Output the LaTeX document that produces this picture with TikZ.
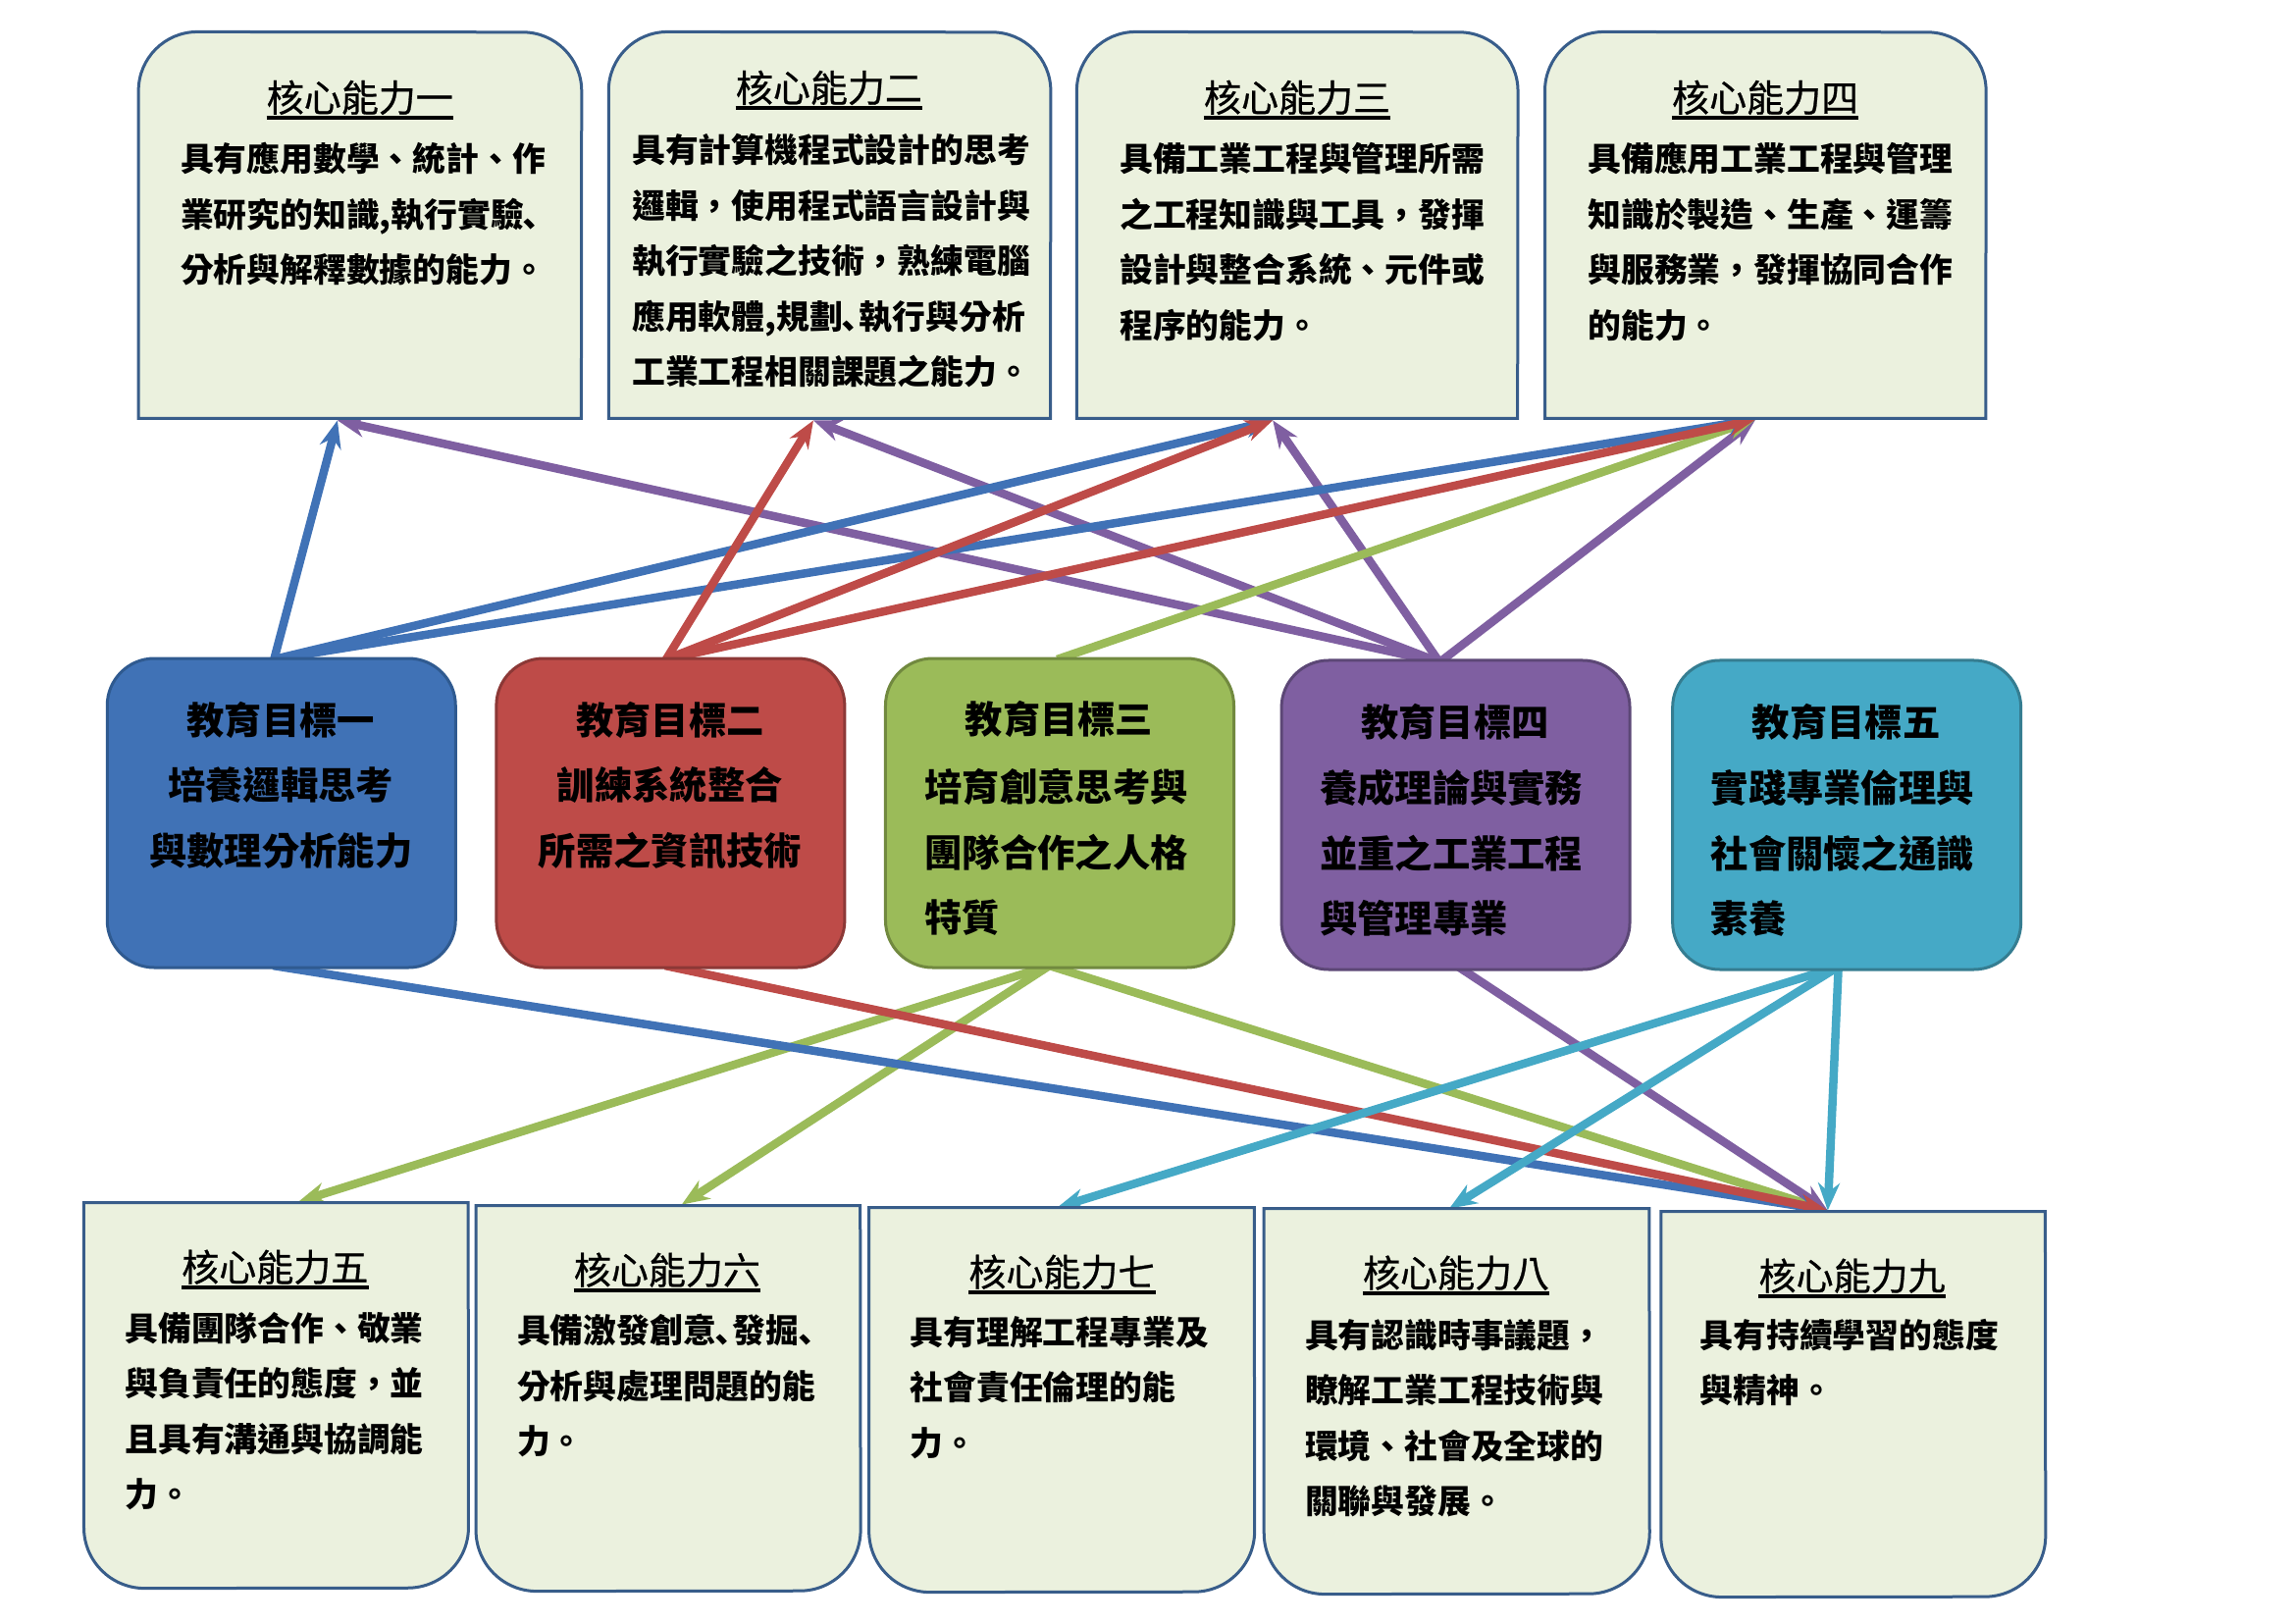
\documentclass[tikz,border=0pt]{standalone}
\usepackage{fontspec}
\setmainfont{Noto Sans CJK TC}
\newfontfamily\ttlfont{Noto Sans CJK TC}[FakeBold=0.7]
\usetikzlibrary{arrows.meta}
\definecolor{boxfill}{HTML}{EBF1DE}
\definecolor{boxline}{HTML}{385D8A}
\definecolor{cblue}{HTML}{4072B6}
\definecolor{cbluel}{HTML}{2F5A90}
\definecolor{cred}{HTML}{BE4B48}
\definecolor{credl}{HTML}{8C3836}
\definecolor{cgreen}{HTML}{9BBB59}
\definecolor{cgreenl}{HTML}{71893F}
\definecolor{cpurple}{HTML}{7F5FA1}
\definecolor{cpurplel}{HTML}{5C4776}
\definecolor{cteal}{HTML}{45A9C6}
\definecolor{cteall}{HTML}{357D91}
\newcommand\capbox[4]{\draw[capstyle] (#1,#4) -- (#1,#3+60) arc[start angle=180,end angle=90,radius=60pt] -- (#2-60,#3) arc[start angle=90,end angle=0,radius=60pt] -- (#2,#4) -- cycle;}
\newcommand\cupbox[4]{\draw[capstyle] (#1,#3) -- (#1,#4-62) arc[start angle=180,end angle=270,radius=62pt] -- (#2-62,#4) arc[start angle=270,end angle=360,radius=62pt] -- (#2,#3) -- cycle;}
\begin{document}
\begin{tikzpicture}[x=0.994pt,y=-0.994pt,
  capstyle/.style={fill=boxfill,draw=boxline,line width=3pt},
  goal/.style={rounded corners=48pt,line width=3pt,minimum width=355pt,minimum height=315pt,inner sep=0},
  ttl/.style={font=\ttlfont\fontsize{38}{46}\selectfont,inner sep=0},
  uline/.style={line width=4pt,black},
  body/.style={font=\bfseries\fontsize{33.8}{56.5}\selectfont,align=left,anchor=north west,inner sep=0},
  gtxt/.style={font=\bfseries\fontsize{38.3}{66.5}\selectfont,inner sep=0},
  link/.style={line width=8.5pt,-{Stealth[length=28pt,width=22pt]}},
]
\useasboundingbox (0pt,0pt) rectangle (2339pt,-1654pt);
\fill[white] (0pt,0pt) rectangle (2339pt,-1654pt);

% ---------- arrow end points ----------
\coordinate (tA1) at (346,431);
\coordinate (tA2) at (834,431);
\coordinate (tA3) at (1305,431);
\coordinate (tA4) at (1800,430);
\coordinate (m1t) at (281,676);
\coordinate (m2t) at (683,676);
\coordinate (m3t) at (1084,676);
\coordinate (m4t) at (1476,679);
\coordinate (m1b) at (280,990);
\coordinate (m2b) at (682,990);
\coordinate (m3b) at (1076,990);
\coordinate (m4b) at (1495,991);
\coordinate (m5b) at (1885,991);
\coordinate (b5) at (306,1232);
\coordinate (b6) at (699,1235);
\coordinate (b7) at (1084,1238);
\coordinate (b8) at (1486,1239);
\coordinate (b9) at (1874,1241);

% ---------- connectors ----------
\draw[link,cpurple] (m4t) -- (tA1);
\draw[link,cpurple] (m4t) -- (tA2);
\draw[link,cpurple] (m4t) -- (tA3);
\draw[link,cpurple] (m4t) -- (tA4);
\draw[link,cgreen] (m3t) -- (tA4);
\draw[link,cblue] (m1t) -- (tA1);
\draw[link,cblue] (m1t) -- (tA3);
\draw[link,cblue] (m1t) -- (tA4);
\draw[link,cred] (m2t) -- (tA2);
\draw[link,cred] (m2t) -- (tA3);
\draw[link,cred] (m2t) -- (tA4);

\draw[link,cgreen] (m3b) -- (b5);
\draw[link,cgreen] (m3b) -- (b6);
\draw[link,cgreen] (m3b) -- (b9);
\draw[link,cpurple] (m4b) -- (b9);
\draw[link,cblue] (m1b) -- (b9);
\draw[link,cred] (m2b) -- (b9);
\draw[link,cteal] (m5b) -- (b7);
\draw[link,cteal] (m5b) -- (b8);
\draw[link,cteal] (m5b) -- (b9);

% ---------- top boxes ----------
\capbox{142}{596}{33}{429}
\capbox{624}{1077}{33}{429}
\capbox{1104}{1556}{33}{429}
\capbox{1584}{2036}{33}{429}

\node[ttl] (k1) at (369,100) {核心能力一};
\draw[uline] ([yshift=-3pt]k1.south west) -- ([yshift=-3pt]k1.south east);
\node[body] (k1b) at (185,146) {具有應用數學、統計、作\\業研究的知識,執行實驗､\\分析與解釋數據的能力。};

\node[ttl] (k2) at (850,90) {核心能力二};
\draw[uline] ([yshift=-3pt]k2.south west) -- ([yshift=-3pt]k2.south east);
\node[body] (k2b) at (648,137) {具有計算機程式設計的思考\\邏輯，使用程式語言設計與\\執行實驗之技術，熟練電腦\\應用軟體,規劃､執行與分析\\工業工程相關課題之能力。};

\node[ttl] (k3) at (1330,100) {核心能力三};
\draw[uline] ([yshift=-3pt]k3.south west) -- ([yshift=-3pt]k3.south east);
\node[body] (k3b) at (1148,146) {具備工業工程與管理所需\\之工程知識與工具，發揮\\設計與整合系統、元件或\\程序的能力。};

\node[ttl] (k4) at (1810,100) {核心能力四};
\draw[uline] ([yshift=-3pt]k4.south west) -- ([yshift=-3pt]k4.south east);
\node[body] (k4b) at (1628,146) {具備應用工業工程與管理\\知識於製造、生產、運籌\\與服務業，發揮協同合作\\的能力。};

% ---------- goal boxes ----------
\node[goal,fill=cblue,draw=cbluel] (g1) at (288.5,833.5) {};
\node[goal,fill=cred,draw=credl] (g2) at (687.5,833.5) {};
\node[goal,fill=cgreen,draw=cgreenl] (g3) at (1086.5,833.5) {};
\node[goal,fill=cpurple,draw=cpurplel] (g4) at (1492.5,835.5) {};
\node[goal,fill=cteal,draw=cteall] (g5) at (1893.5,835.5) {};

\node[gtxt,align=center,anchor=north] (g1t) at (288,719) {教育目標一\\培養邏輯思考\\與數理分析能力};
\node[gtxt,align=center,anchor=north] (g2t) at (687,719) {教育目標二\\訓練系統整合\\所需之資訊技術};
\node[gtxt] (g3h) at (1086,737) {教育目標三};
\node[gtxt,align=left,anchor=north west] (g3t) at (948,788) {培育創意思考與\\團隊合作之人格\\特質};
\node[gtxt] (g4h) at (1492,740) {教育目標四};
\node[gtxt,align=left,anchor=north west] (g4t) at (1353,789) {養成理論與實務\\並重之工業工程\\與管理專業};
\node[gtxt] (g5h) at (1893,740) {教育目標五};
\node[gtxt,align=left,anchor=north west] (g5t) at (1754,789) {實踐專業倫理與\\社會關懷之通識\\素養};

% ---------- bottom boxes ----------
\cupbox{86}{480}{1233}{1628}
\cupbox{488}{882}{1236}{1631}
\cupbox{891}{1286}{1238}{1632}
\cupbox{1296}{1691}{1239}{1634}
\cupbox{1703}{2097}{1242}{1637}

\node[ttl] (k5) at (282,1299) {核心能力五};
\draw[uline] ([yshift=-3pt]k5.south west) -- ([yshift=-3pt]k5.south east);
\node[body] (k5b) at (128,1345) {具備團隊合作、敬業\\與負責任的態度，並\\且具有溝通與協調能\\力。};

\node[ttl] (k6) at (684,1302) {核心能力六};
\draw[uline] ([yshift=-3pt]k6.south west) -- ([yshift=-3pt]k6.south east);
\node[body] (k6b) at (530,1347) {具備激發創意､發掘､\\分析與處理問題的能\\力。};

\node[ttl] (k7) at (1089,1304) {核心能力七};
\draw[uline] ([yshift=-3pt]k7.south west) -- ([yshift=-3pt]k7.south east);
\node[body] (k7b) at (933,1349) {具有理解工程專業及\\社會責任倫理的能\\力。};

\node[ttl] (k8) at (1493,1305) {核心能力八};
\draw[uline] ([yshift=-3pt]k8.south west) -- ([yshift=-3pt]k8.south east);
\node[body] (k8b) at (1338,1352) {具有認識時事議題，\\瞭解工業工程技術與\\環境、社會及全球的\\關聯與發展。};

\node[ttl] (k9) at (1899,1308) {核心能力九};
\draw[uline] ([yshift=-3pt]k9.south west) -- ([yshift=-3pt]k9.south east);
\node[body] (k9b) at (1743,1352) {具有持續學習的態度\\與精神。};
\end{tikzpicture}
\end{document}
